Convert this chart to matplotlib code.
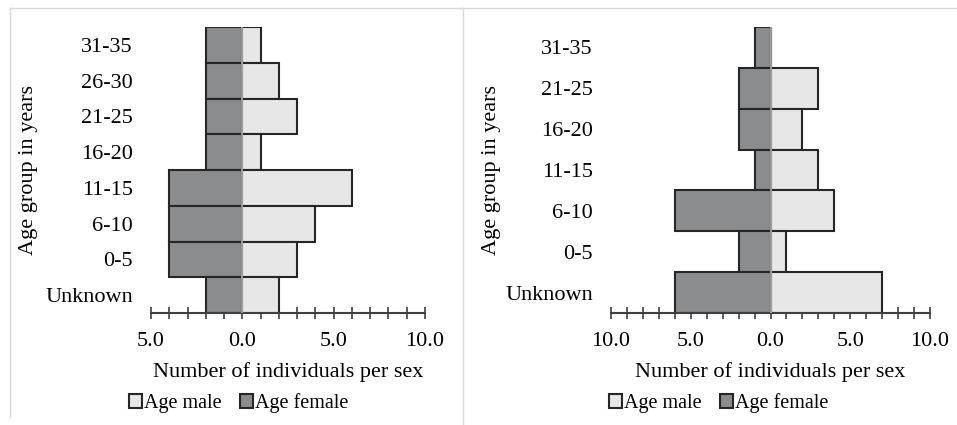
import matplotlib.pyplot as plt
from matplotlib.patches import Patch
from matplotlib.lines import Line2D
from matplotlib.ticker import FuncFormatter, MultipleLocator

plt.rcParams['font.family'] = ['Liberation Serif', 'DejaVu Serif']
plt.rcParams['font.size'] = 16

# left panel data (top to bottom)
groups_a = ["31-35", "26-30", "21-25", "16-20", "11-15", "6-10", "0-5", "Unknown"]
male_a = [1, 2, 3, 1, 6, 4, 3, 2]
female_a = [2, 2, 2, 2, 4, 4, 4, 2]

# right panel data (top to bottom)
groups_b = ["31-35", "21-25", "16-20", "11-15", "6-10", "0-5", "Unknown"]
male_b = [0, 3, 2, 3, 4, 1, 7]
female_b = [1, 2, 2, 1, 6, 2, 6]

c_male = "#e7e7e8"
c_female = "#8b8c8e"
c_edge = "#262626"
c_axis = "#404040"

W, H = 957, 425
fig = plt.figure(figsize=(W / 100, H / 100), dpi=100)


def px(x0, y0, x1, y1):
    return [x0 / W, 1 - y1 / H, (x1 - x0) / W, (y1 - y0) / H]


def pyramid(rect, groups, male, female, xmin, xmax):
    ax = fig.add_axes(rect)
    n = len(groups)
    ys = list(range(n - 1, -1, -1))
    ax.barh(ys, [-f for f in female], height=1.0, color=c_female,
            edgecolor=c_edge, linewidth=1.5, zorder=2)
    ax.barh(ys, male, height=1.0, color=c_male,
            edgecolor=c_edge, linewidth=1.5, zorder=2)
    ax.axvline(0, color="#a6a6a6", lw=1.3, zorder=3)
    ax.set_xlim(xmin, xmax)
    ax.set_ylim(-0.5, n - 0.5)
    ax.set_yticks(ys)
    ax.set_yticklabels(groups)
    ax.xaxis.set_major_locator(MultipleLocator(5))
    ax.xaxis.set_minor_locator(MultipleLocator(1))
    ax.xaxis.set_major_formatter(FuncFormatter(lambda v, p: "%.1f" % abs(v)))
    ax.tick_params(axis="y", length=0, pad=13)
    ax.tick_params(axis="x", which="both", direction="inout", length=8,
                   width=1.2, color=c_axis, pad=10)
    for s in ["top", "right", "left"]:
        ax.spines[s].set_visible(False)
    ax.spines["bottom"].set_color(c_axis)
    ax.spines["bottom"].set_linewidth(1.5)
    ax.set_xlabel("Number of individuals per sex", labelpad=8)
    ax.patch.set_alpha(0)
    return ax


pyramid(px(151, 27, 425, 313), groups_a, male_a, female_a, -5, 10)
pyramid(px(611, 27, 930, 313), groups_b, male_b, female_b, -10, 10)

fig.text(29 / W, 1 - 170 / H, "Age group in years", rotation=90,
         ha="center", va="center")
fig.text(491 / W, 1 - 170 / H, "Age group in years", rotation=90,
         ha="center", va="center")

handles = [Patch(facecolor=c_male, edgecolor=c_edge, linewidth=1.5),
           Patch(facecolor=c_female, edgecolor=c_edge, linewidth=1.5)]
labels = ["Age male", "Age female"]
for cx in (239, 719):
    fig.legend(handles, labels, loc="center", ncol=2, fontsize=14.5,
               bbox_to_anchor=(cx / W, 1 - 403 / H), frameon=False,
               handlelength=0.65, handleheight=0.65, handletextpad=0.1,
               columnspacing=0.9, borderpad=0)

# light panel borders
bc = "#d9d9d9"
fig.add_artist(Line2D([10 / W, 463 / W], [1 - 8 / H, 1 - 8 / H], color=bc, lw=1))
fig.add_artist(Line2D([10 / W, 10 / W], [1 - 8 / H, 1 - 417 / H], color=bc, lw=1))
fig.add_artist(Line2D([463 / W, 463 / W], [1 - 8 / H, 1 - 425 / H], color=bc, lw=1))
fig.add_artist(Line2D([463 / W, 1.0], [1 - 8 / H, 1 - 8 / H], color=bc, lw=1))

fig.savefig("out.png", dpi=100)
